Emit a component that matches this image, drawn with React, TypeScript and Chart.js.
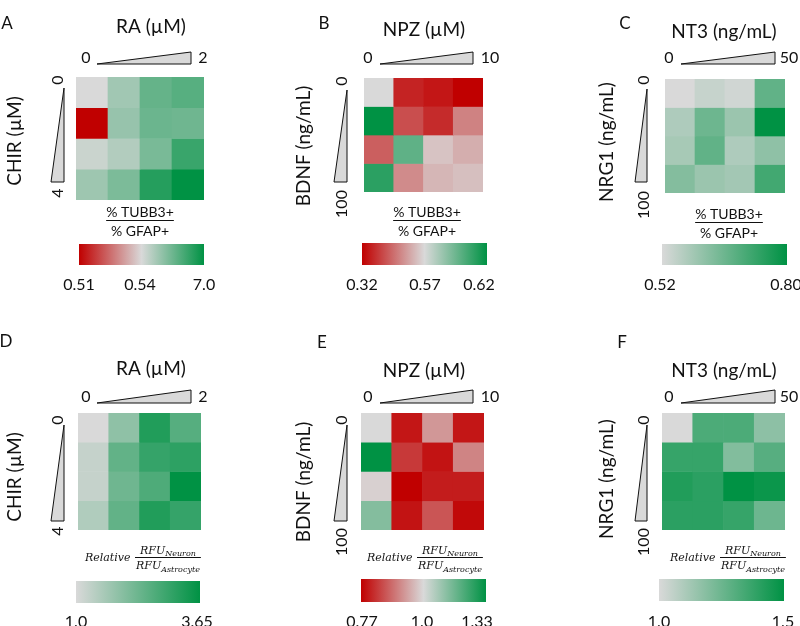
import React, { useEffect, useRef } from "react";
import { Chart, registerables } from "chart.js";
Chart.register(...registerables);

// ---------- data ----------
const COLUMNS = ["c1", "c2", "c3", "c4"];

// A: % TUBB3+ / % GFAP+ , RA (cols) x CHIR (rows)
const valuesA = [
  [0.54, 2.2, 4.0, 4.4],
  [0.51, 2.5, 3.8, 3.7],
  [1.0, 1.7, 3.4, 5.3],
  [2.3, 3.3, 5.9, 7.0],
];
const scaleA = [0.51, 0.54, 7.0];
const ticksA = ["0.51", "0.54", "7.0"];

// B: NPZ (cols) x BDNF (rows)
const valuesB = [
  [0.57, 0.36, 0.345, 0.32],
  [0.62, 0.41, 0.37, 0.47],
  [0.43, 0.598, 0.545, 0.52],
  [0.61, 0.48, 0.53, 0.54],
];
const scaleB = [0.32, 0.57, 0.62];
const ticksB = ["0.32", "0.57", "0.62"];

// C: NT3 (cols) x NRG1 (rows)
const valuesC = [
  [0.52, 0.545, 0.532, 0.675],
  [0.575, 0.66, 0.6, 0.8],
  [0.585, 0.675, 0.575, 0.615],
  [0.63, 0.6, 0.59, 0.715],
];
const scaleC = [0.52, 0.8];
const ticksC = ["0.52", "0.80"];

// D: Relative RFU Neuron / Astrocyte, RA x CHIR
const valuesD = [
  [1.0, 1.9, 3.25, 2.6],
  [1.25, 2.45, 3.0, 3.1],
  [1.25, 2.3, 2.7, 3.65],
  [1.5, 2.45, 3.25, 3.0],
];
const scaleD = [1.0, 3.65];
const ticksD = ["1.0", "3.65"];

// E: NPZ x BDNF
const valuesE = [
  [1.0, 0.793, 0.93, 0.793],
  [1.33, 0.83, 0.79, 0.91],
  [0.99, 0.77, 0.8, 0.8],
  [1.13, 0.79, 0.86, 0.78],
];
const scaleE = [0.77, 1.0, 1.33];
const ticksE = ["0.77", "1.0", "1.33"];

// F: NT3 x NRG1
const valuesF = [
  [1.0, 1.325, 1.325, 1.175],
  [1.375, 1.375, 1.2, 1.3],
  [1.425, 1.4, 1.5, 1.475],
  [1.4, 1.4, 1.375, 1.25],
];
const scaleF = [1.0, 1.5];
const ticksF = ["1.0", "1.5"];

// ---------- colours ----------
const GRAY = [217, 217, 217];
const RED = [192, 0, 0];
const GREEN = [0, 146, 68];
const TRI_FILL = "rgb(217,217,217)";
const INK = "#111";

function mix(a: number[], b: number[], t: number) {
  const k = Math.max(0, Math.min(1, t));
  return `rgb(${a.map((x, i) => Math.round(x + (b[i] - x) * k)).join(",")})`;
}
function cellColor(v: number, scale: number[]) {
  if (scale.length === 3) {
    const [lo, mid, hi] = scale;
    return v < mid ? mix(GRAY, RED, (mid - v) / (mid - lo)) : mix(GRAY, GREEN, (v - mid) / (hi - mid));
  }
  const [lo, hi] = scale;
  return mix(GRAY, GREEN, (v - lo) / (hi - lo));
}

// ---------- layout (absolute page px) ----------
const LAYOUT: Record<string, any> = {
  A: { box: [0, 0, 270, 310], heat: [76, 77, 204, 200], letter: [7, 24], title: [151, 27], hTri: [97, 52, 191, 64], hEnds: [[86, 58], [203, 58]], vTri: [51, 88, 64, 182], vEnds: [[58, 80], [58, 193]], yTitle: [15, 141], caption: [140, 212], bar: [79, 244, 204, 265], tickY: 285, tickX: [79, 140, 204] },
  B: { box: [270, 0, 260, 310], heat: [364, 78, 483, 192], letter: [324, 24], title: [424, 30], hTri: [380, 52, 473, 64], hEnds: [[368, 58], [490, 58]], vTri: [334, 90, 347, 182], vEnds: [[342, 81], [342, 204]], yTitle: [304, 146], caption: [427, 212], bar: [362, 243, 487, 265], tickY: 285, tickX: [362, 425, 479] },
  C: { box: [530, 0, 270, 310], heat: [665, 79, 785, 193], letter: [625, 24], title: [724, 32], hTri: [681, 52, 775, 64], hEnds: [[669, 58], [789, 58]], vTri: [635, 89, 647, 182], vEnds: [[644, 80], [644, 205]], yTitle: [607, 142], caption: [729, 214], bar: [662, 244, 787, 265], tickY: 285, tickX: [660, 786] },
  D: { box: [0, 310, 270, 316], heat: [78, 413, 201, 530], letter: [6, 342], title: [151, 369], hTri: [97, 390, 191, 403], hEnds: [[86, 397], [203, 397]], vTri: [51, 425, 64, 521], vEnds: [[58, 420], [58, 531]], yTitle: [15, 477], caption: [85, 557], bar: [76, 581, 200, 603], tickY: 622, tickX: [76, 197] },
  E: { box: [270, 310, 260, 316], heat: [361, 413, 484, 530], letter: [322, 343], title: [424, 371], hTri: [380, 390, 473, 403], hEnds: [[368, 397], [490, 397]], vTri: [334, 425, 347, 521], vEnds: [[342, 420], [342, 542]], yTitle: [304, 482], caption: [367, 557], bar: [361, 579, 486, 602], tickY: 622, tickX: [362, 422, 477] },
  F: { box: [530, 310, 270, 316], heat: [662, 413, 785, 530], letter: [622, 343], title: [724, 371], hTri: [681, 390, 775, 403], hEnds: [[669, 397], [789, 397]], vTri: [635, 425, 647, 521], vEnds: [[644, 420], [644, 542]], yTitle: [607, 479], caption: [670, 557], bar: [659, 579, 784, 601], tickY: 622, tickX: [659, 783] },
};

const PANELS = [
  { id: "A", title: "RA (µM)", yTitle: "CHIR (µM)", xEnds: ["0", "2"], yEnds: ["0", "4"], values: valuesA, scale: scaleA, ticks: ticksA, caption: "pct" },
  { id: "B", title: "NPZ (µM)", yTitle: "BDNF (ng/mL)", xEnds: ["0", "10"], yEnds: ["0", "100"], values: valuesB, scale: scaleB, ticks: ticksB, caption: "pct" },
  { id: "C", title: "NT3 (ng/mL)", yTitle: "NRG1 (ng/mL)", xEnds: ["0", "50"], yEnds: ["0", "100"], values: valuesC, scale: scaleC, ticks: ticksC, caption: "pct" },
  { id: "D", title: "RA (µM)", yTitle: "CHIR (µM)", xEnds: ["0", "2"], yEnds: ["0", "4"], values: valuesD, scale: scaleD, ticks: ticksD, caption: "rfu" },
  { id: "E", title: "NPZ (µM)", yTitle: "BDNF (ng/mL)", xEnds: ["0", "10"], yEnds: ["0", "100"], values: valuesE, scale: scaleE, ticks: ticksE, caption: "rfu" },
  { id: "F", title: "NT3 (ng/mL)", yTitle: "NRG1 (ng/mL)", xEnds: ["0", "50"], yEnds: ["0", "100"], values: valuesF, scale: scaleF, ticks: ticksF, caption: "rfu" },
];

const SANS = "Lato, 'Open Sans', sans-serif";
const SERIF = "'DejaVu Serif', 'Liberation Serif', serif";

function rotText(ctx: CanvasRenderingContext2D, s: string, x: number, y: number) {
  ctx.save();
  ctx.translate(x, y);
  ctx.rotate(-Math.PI / 2);
  ctx.fillText(s, 0, 0);
  ctx.restore();
}

function decorPlugin(p: any) {
  const L = LAYOUT[p.id];
  return {
    id: "decor" + p.id,
    afterDraw(chart: any) {
      const ctx: CanvasRenderingContext2D = chart.ctx;
      ctx.save();
      ctx.translate(-L.box[0], -L.box[1]);
      ctx.fillStyle = INK;
      ctx.strokeStyle = INK;
      ctx.textAlign = "center";
      ctx.textBaseline = "middle";

      // panel letter
      ctx.font = `17px ${SANS}`;
      ctx.fillText(p.id, L.letter[0], L.letter[1]);
      // title
      ctx.font = `19px ${SANS}`;
      ctx.fillText(p.title, L.title[0], L.title[1]);
      // y title
      rotText(ctx, p.yTitle, L.yTitle[0], L.yTitle[1]);

      // horizontal triangle
      const [hx0, hy0, hx1, hy1] = L.hTri;
      ctx.beginPath();
      ctx.moveTo(hx0, hy1);
      ctx.lineTo(hx1, hy0);
      ctx.lineTo(hx1, hy1);
      ctx.closePath();
      ctx.fillStyle = TRI_FILL;
      ctx.fill();
      ctx.lineWidth = 1;
      ctx.stroke();
      // vertical triangle
      const [vx0, vy0, vx1, vy1] = L.vTri;
      ctx.beginPath();
      ctx.moveTo(vx1, vy0);
      ctx.lineTo(vx1, vy1);
      ctx.lineTo(vx0, vy1);
      ctx.closePath();
      ctx.fill();
      ctx.stroke();

      ctx.fillStyle = INK;
      ctx.font = `16px ${SANS}`;
      ctx.fillText(p.xEnds[0], L.hEnds[0][0], L.hEnds[0][1]);
      ctx.fillText(p.xEnds[1], L.hEnds[1][0], L.hEnds[1][1]);
      rotText(ctx, p.yEnds[0], L.vEnds[0][0], L.vEnds[0][1]);
      rotText(ctx, p.yEnds[1], L.vEnds[1][0], L.vEnds[1][1]);

      // caption
      if (p.caption === "pct") {
        const [cx, cy] = L.caption;
        ctx.font = `14px ${SANS}`;
        const top = "% TUBB3+";
        ctx.fillText(top, cx, cy);
        const w = ctx.measureText(top).width;
        ctx.fillRect(cx - w / 2, cy + 8, w, 1);
        ctx.fillText("% GFAP+", cx, cy + 19);
      } else {
        const [lx, ly] = L.caption;
        ctx.textAlign = "left";
        ctx.textBaseline = "alphabetic";
        const big = `italic 11px ${SERIF}`;
        const small = `italic 8px ${SERIF}`;
        ctx.font = big;
        ctx.fillText("Relative", lx, ly + 4);
        const fx = lx + 50;
        const wR = ctx.measureText("RFU").width;
        ctx.font = small;
        const wN = ctx.measureText("Neuron").width;
        const wA = ctx.measureText("Astrocyte").width;
        const numW = wR + wN;
        const denW = wR + wA;
        const lineW = Math.max(numW, denW) + 2;
        const nx = fx + (lineW - numW) / 2;
        const dx = fx + (lineW - denW) / 2;
        ctx.font = big;
        ctx.fillText("RFU", nx, ly - 3);
        ctx.fillText("RFU", dx, ly + 12);
        ctx.font = small;
        ctx.fillText("Neuron", nx + wR, ly - 1);
        ctx.fillText("Astrocyte", dx + wR, ly + 15);
        ctx.fillRect(fx, ly, lineW, 1);
      }

      // colour bar
      const [bx0, by0, bx1, by1] = L.bar;
      const g = ctx.createLinearGradient(bx0, 0, bx1, 0);
      if (p.scale.length === 3) {
        g.addColorStop(0, mix(RED, RED, 0));
        g.addColorStop(0.5, mix(GRAY, GRAY, 0));
        g.addColorStop(1, mix(GREEN, GREEN, 0));
      } else {
        g.addColorStop(0, mix(GRAY, GRAY, 0));
        g.addColorStop(1, mix(GREEN, GREEN, 0));
      }
      ctx.fillStyle = g;
      ctx.fillRect(bx0, by0, bx1 - bx0, by1 - by0);

      ctx.fillStyle = INK;
      ctx.textAlign = "center";
      ctx.textBaseline = "middle";
      ctx.font = `16px ${SANS}`;
      p.ticks.forEach((t: string, i: number) => ctx.fillText(t, L.tickX[i], L.tickY));
      ctx.restore();
    },
  };
}

function HeatPanel({ p }: { p: any }) {
  const ref = useRef<HTMLCanvasElement | null>(null);
  const L = LAYOUT[p.id];
  const [bx, by, bw, bh] = L.box;
  useEffect(() => {
    const [hx0, hy0, hx1, hy1] = L.heat;
    const chart = new Chart(ref.current as HTMLCanvasElement, {
      type: "bar",
      data: {
        labels: COLUMNS,
        datasets: p.values.map((row: number[], r: number) => ({
          label: "row" + r,
          data: row.map((v: number, c: number) => ({ x: COLUMNS[c], y: [r, r + 1], v })),
          backgroundColor: row.map((v: number) => cellColor(v, p.scale)),
          borderWidth: 0,
          barPercentage: 1,
          categoryPercentage: 1,
          grouped: false,
        })),
      },
      options: {
        animation: false,
        responsive: false,
        maintainAspectRatio: false,
        layout: { padding: { left: hx0 - bx, top: hy0 - by, right: bx + bw - hx1, bottom: by + bh - hy1 } },
        scales: {
          x: { type: "category", display: false, offset: true },
          y: { type: "linear", display: false, min: 0, max: 4, reverse: true },
        },
        plugins: { legend: { display: false }, tooltip: { enabled: false }, title: { display: false } },
      } as any,
      plugins: [decorPlugin(p)],
    } as any);
    return () => chart.destroy();
  }, []);
  return (
    <canvas
      ref={ref}
      width={bw}
      height={bh}
      style={{ position: "absolute", left: bx, top: by, width: bw, height: bh }}
    />
  );
}

export default function App() {
  return (
    <div style={{ position: "absolute", left: 0, top: 0, width: 800, height: 626, background: "#fff", overflow: "hidden" }}>
      {PANELS.map((p) => (
        <HeatPanel key={p.id} p={p} />
      ))}
    </div>
  );
}
